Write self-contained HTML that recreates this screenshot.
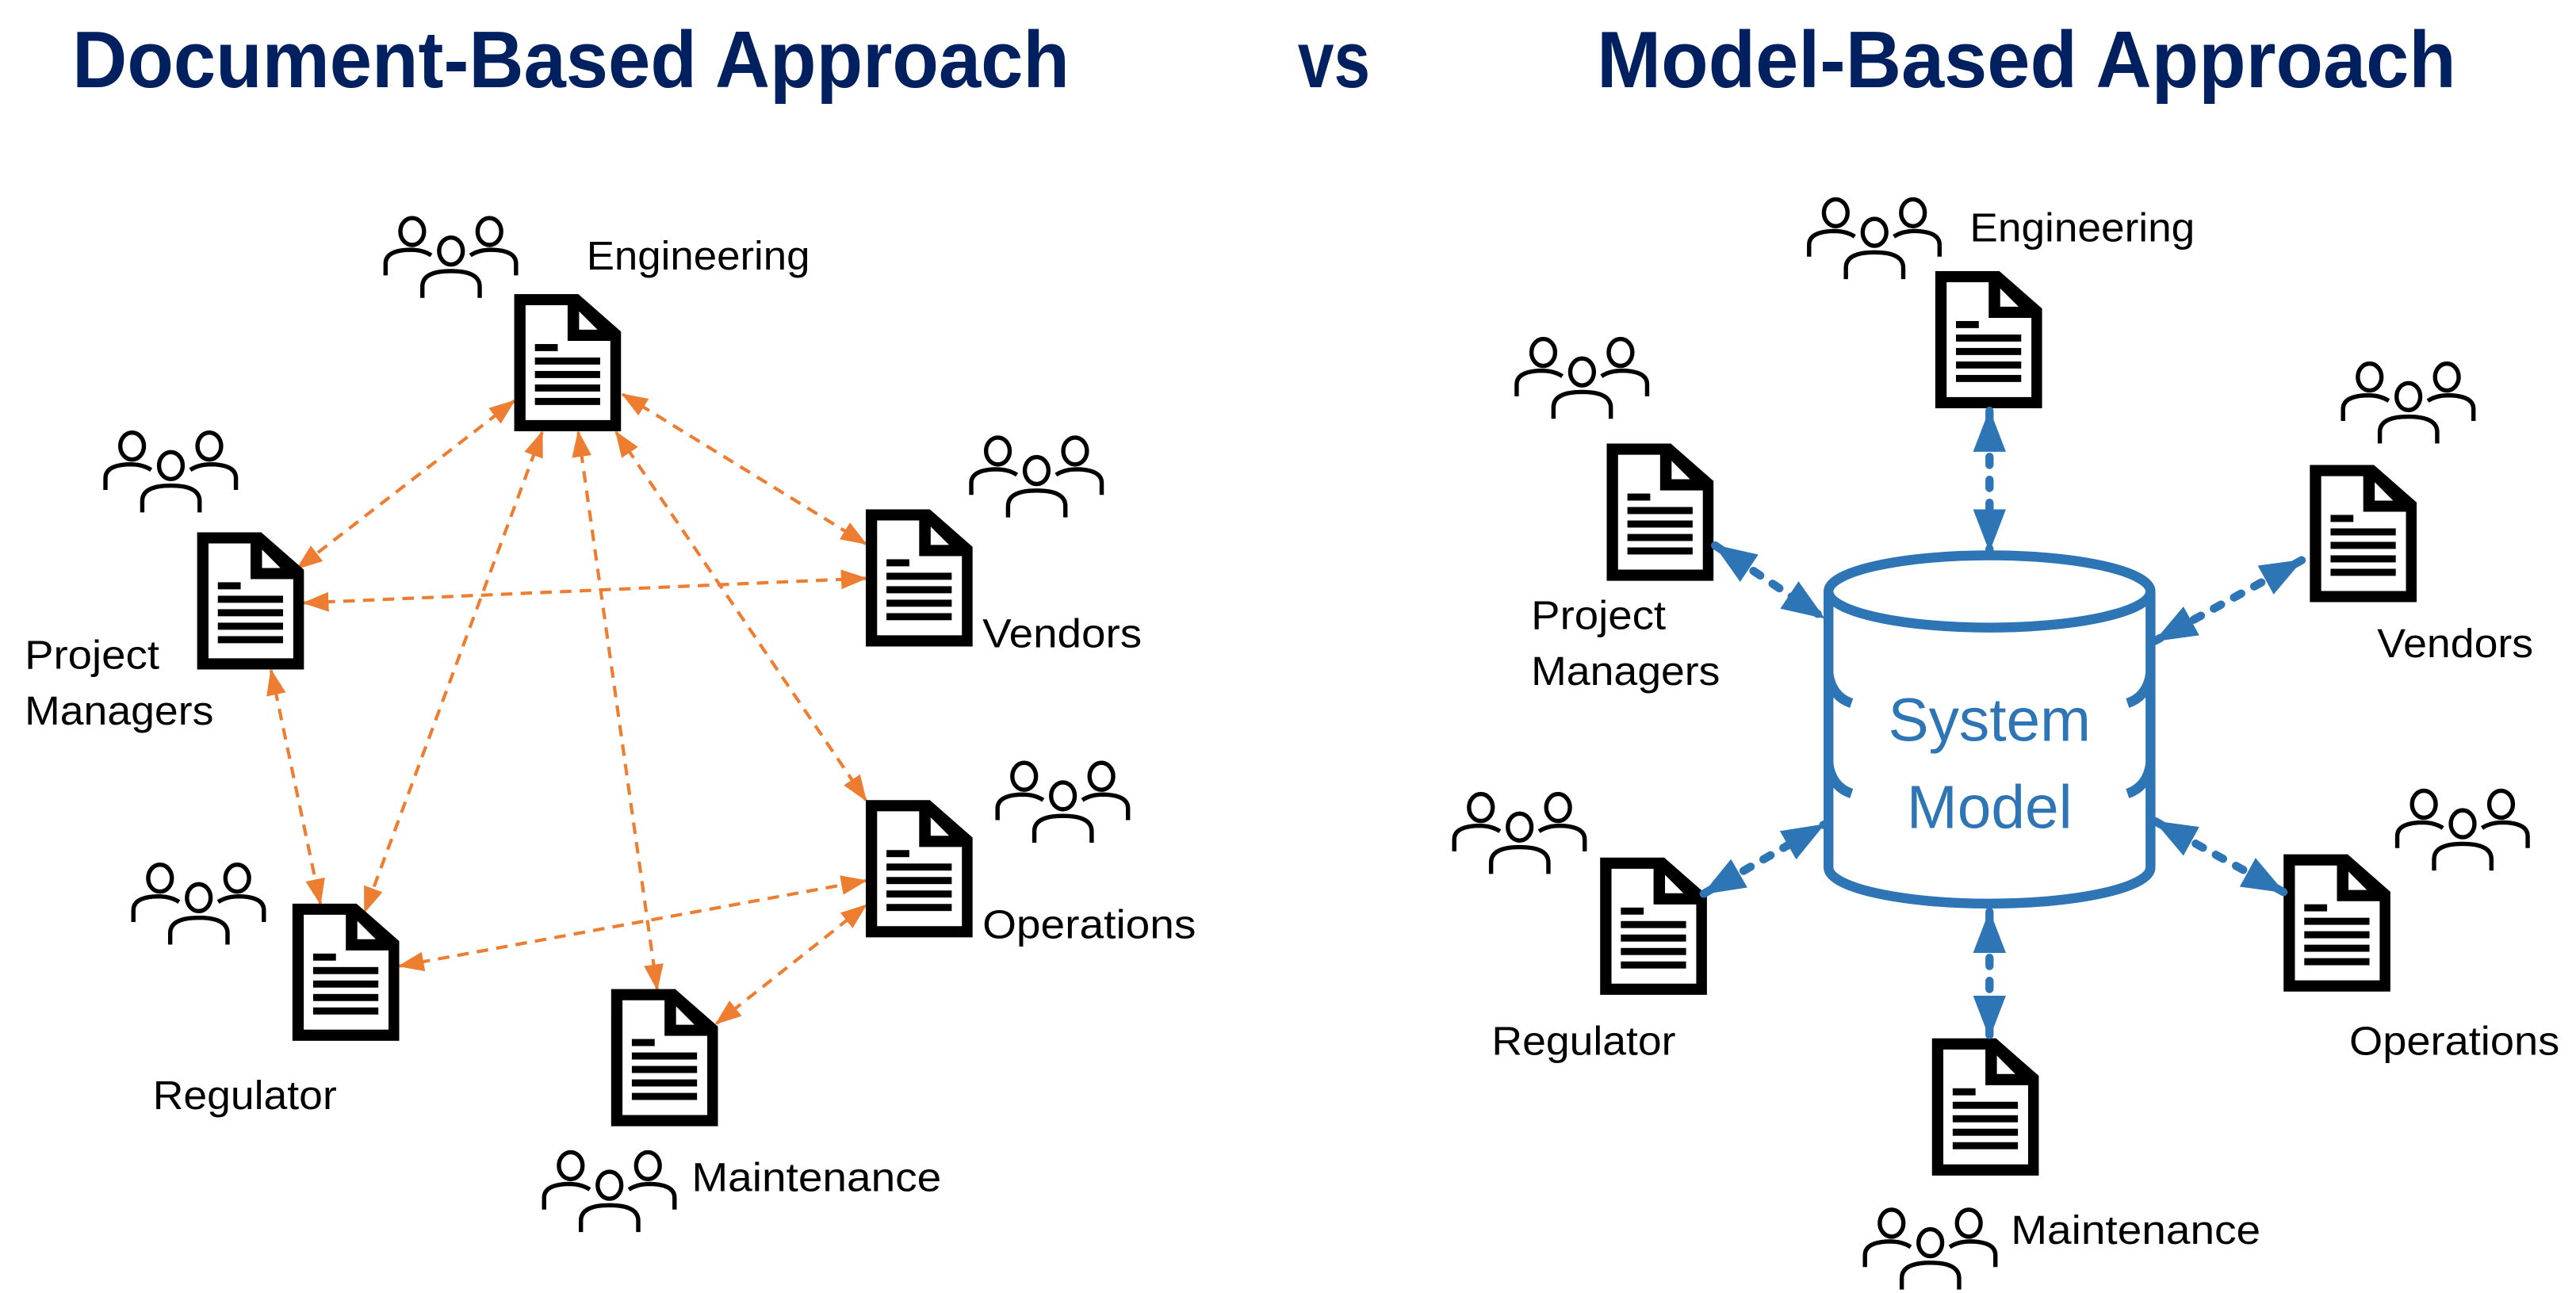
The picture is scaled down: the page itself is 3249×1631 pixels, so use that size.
<!DOCTYPE html>
<html><head><meta charset="utf-8"><style>html,body{margin:0;padding:0;background:#fff;}svg{display:block;}</style></head>
<body>
<svg width="3249" height="1631" viewBox="0 0 1568 787" preserveAspectRatio="none" xmlns="http://www.w3.org/2000/svg" xmlns:xlink="http://www.w3.org/1999/xlink">
<defs>
<g id="doc">
<polygon points="0,0 39,0 65,22.8 65,83.5 0,83.5" fill="#000"/>
<polygon points="6.9,6.8 32.5,6.8 32.5,28.5 58.5,28.5 58.5,76.7 6.9,76.7" fill="#fff"/>
<polygon points="39.5,10.5 39.5,21.7 50.7,21.7" fill="#fff"/>
<rect x="12.6" y="30.4" width="13.9" height="4.3" fill="#000"/>
<rect x="12.6" y="38.6" width="39.7" height="4.3" fill="#000"/>
<rect x="12.6" y="46.8" width="39.7" height="4.3" fill="#000"/>
<rect x="12.6" y="55" width="39.7" height="4.3" fill="#000"/>
<rect x="12.6" y="63.2" width="39.7" height="4.3" fill="#000"/>
</g>
<g id="ppl" fill="none" stroke="#000" stroke-width="2.6">
<ellipse cx="17.4" cy="9.5" rx="7.2" ry="8.2"/>
<ellipse cx="64.4" cy="9.5" rx="7.2" ry="8.2"/>
<ellipse cx="41" cy="21.4" rx="7.2" ry="8.2"/>
<path d="M1.2,36.2 V29 Q1.2,21 16,20.6 Q24,20.6 29,24"/>
<path d="M80.6,36.2 V29 Q80.6,21 65.8,20.6 Q57.8,20.6 52.8,24"/>
<path d="M23.6,49.9 V43 Q23.6,33.6 41,33.6 Q58.5,33.6 58.5,43 V49.9"/>
</g>
<marker id="oa" markerUnits="userSpaceOnUse" markerWidth="16" markerHeight="12" refX="15" refY="6" orient="auto-start-reverse" viewBox="0 0 16 12">
<path d="M0,0 L16,6 L0,12 z" fill="#ED7D31"/>
</marker>
<marker id="ba" markerUnits="userSpaceOnUse" markerWidth="26" markerHeight="20" refX="25" refY="10" orient="auto-start-reverse" viewBox="0 0 26 20">
<path d="M0,0 L26,10 L0,20 z" fill="#2E75B6"/>
</marker>
</defs>

<g font-family="'Liberation Sans', sans-serif" font-weight="bold" fill="#002060" font-size="49">
<text x="44" y="53" textLength="607" lengthAdjust="spacingAndGlyphs">Document-Based Approach</text>
<text x="790" y="53" textLength="44" lengthAdjust="spacingAndGlyphs">vs</text>
<text x="972" y="53" textLength="523" lengthAdjust="spacingAndGlyphs">Model-Based Approach</text>
</g>

<g stroke="#ED7D31" stroke-width="2" stroke-dasharray="7 5" fill="none" marker-start="url(#oa)" marker-end="url(#oa)">
<line x1="313" y1="244" x2="181" y2="346"/>
<line x1="379" y1="240" x2="527" y2="331"/>
<line x1="330" y1="263" x2="222" y2="555"/>
<line x1="352" y1="263" x2="400" y2="602"/>
<line x1="375" y1="263" x2="527" y2="487"/>
<line x1="185" y1="367" x2="527" y2="352"/>
<line x1="165" y1="408" x2="195" y2="550"/>
<line x1="243" y1="588" x2="527" y2="536"/>
<line x1="436" y1="623" x2="527" y2="551"/>
</g>

<use href="#doc" x="313" y="179"/>
<use href="#doc" x="120" y="324"/>
<use href="#doc" x="527" y="310"/>
<use href="#doc" x="527" y="487"/>
<use href="#doc" x="178" y="550"/>
<use href="#doc" x="372" y="602"/>
<use href="#ppl" x="233.5" y="131.4"/>
<use href="#ppl" x="63" y="262"/>
<use href="#ppl" x="590" y="265"/>
<use href="#ppl" x="606" y="463"/>
<use href="#ppl" x="80" y="525"/>
<use href="#ppl" x="330" y="700"/>

<g font-family="'Liberation Sans', sans-serif" font-size="24.5" fill="#000">
<text x="357" y="164" textLength="136" lengthAdjust="spacingAndGlyphs">Engineering</text>
<text x="15" y="407" textLength="82" lengthAdjust="spacingAndGlyphs">Project</text>
<text x="15" y="441" textLength="115" lengthAdjust="spacingAndGlyphs">Managers</text>
<text x="598" y="394" textLength="97" lengthAdjust="spacingAndGlyphs">Vendors</text>
<text x="598" y="571" textLength="130" lengthAdjust="spacingAndGlyphs">Operations</text>
<text x="93" y="675" textLength="112" lengthAdjust="spacingAndGlyphs">Regulator</text>
<text x="421" y="725" textLength="152" lengthAdjust="spacingAndGlyphs">Maintenance</text>

<text x="1199" y="147" textLength="137" lengthAdjust="spacingAndGlyphs">Engineering</text>
<text x="932" y="383" textLength="82" lengthAdjust="spacingAndGlyphs">Project</text>
<text x="932" y="417" textLength="115" lengthAdjust="spacingAndGlyphs">Managers</text>
<text x="1447" y="400" textLength="95" lengthAdjust="spacingAndGlyphs">Vendors</text>
<text x="908" y="642" textLength="112" lengthAdjust="spacingAndGlyphs">Regulator</text>
<text x="1430" y="642" textLength="128" lengthAdjust="spacingAndGlyphs">Operations</text>
<text x="1224" y="757" textLength="152" lengthAdjust="spacingAndGlyphs">Maintenance</text>
</g>

<use href="#doc" x="1178" y="165"/>
<use href="#doc" x="978" y="270"/>
<use href="#doc" x="1406" y="283"/>
<use href="#doc" x="974" y="522"/>
<use href="#doc" x="1390" y="520"/>
<use href="#doc" x="1176" y="632"/>
<use href="#ppl" x="1100" y="120"/>
<use href="#ppl" x="922" y="205"/>
<use href="#ppl" x="1425" y="220"/>
<use href="#ppl" x="884" y="482"/>
<use href="#ppl" x="1458" y="480"/>
<use href="#ppl" x="1134" y="735"/>

<g stroke="#2E75B6" stroke-width="5" stroke-linecap="round" stroke-dasharray="5 9" fill="none" marker-start="url(#ba)" marker-end="url(#ba)">
<line x1="1211" y1="250" x2="1211" y2="335"/>
<line x1="1044" y1="332" x2="1110" y2="376"/>
<line x1="1401" y1="341" x2="1312" y2="390"/>
<line x1="1037" y1="544" x2="1110" y2="502"/>
<line x1="1312" y1="500" x2="1390" y2="543"/>
<line x1="1211" y1="555" x2="1211" y2="631"/>
</g>

<g stroke="#2E75B6" stroke-width="6" fill="none">
<ellipse cx="1211" cy="360" rx="98" ry="22"/>
<path d="M1113,360 V528 A98,22 0 0 0 1309,528 V360"/>
<path d="M1113,410 Q1115,424 1127,428"/>
<path d="M1113,465 Q1115,479 1127,483"/>
<path d="M1309,410 Q1307,424 1295,428"/>
<path d="M1309,465 Q1307,479 1295,483"/>
</g>
<g font-family="'Liberation Sans', sans-serif" font-size="37" fill="#2E75B6" text-anchor="middle">
<text x="1211" y="451">System</text>
<text x="1211" y="504">Model</text>
</g>
</svg>
</body></html>
